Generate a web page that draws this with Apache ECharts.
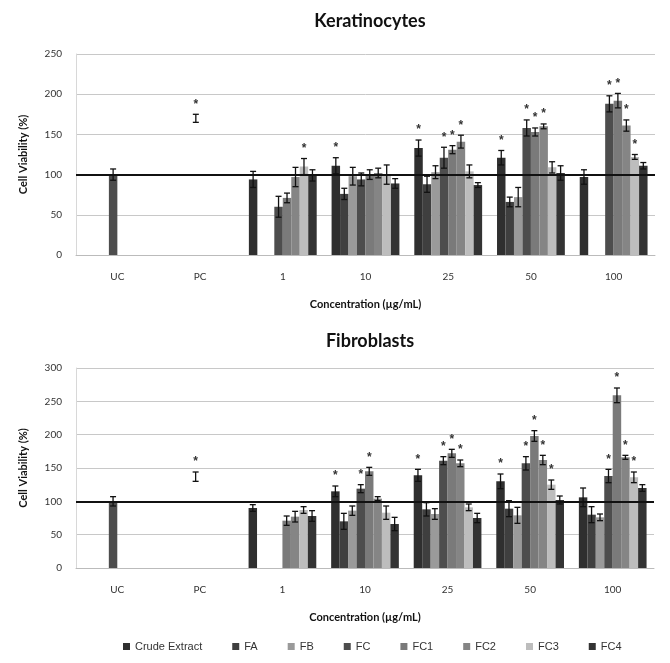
<!DOCTYPE html>
<html>
<head>
<meta charset="utf-8">
<script src="https://cdn.jsdelivr.net/npm/echarts@6/dist/echarts.min.js"></script>
<style>
html,body{margin:0;padding:0;background:#fff;}
#chart{width:670px;height:663px;}
</style>
</head>
<body>
<div id="chart"></div>
<script>
// ---- data ----
var categories = ['UC', 'PC', '1', '10', '25', '50', '100'];
var seriesNames = ['Crude Extract', 'FA', 'FB', 'FC', 'FC1', 'FC2', 'FC3', 'FC4'];

// Keratinocytes (mean, SD, significance)
var kerCrude = ['-', '-', 94, 111, 133, 121, 97];
var kerFA    = ['-', '-', '-', 76, 88, 66, '-'];
var kerFB    = ['-', '-', '-', 98, 103, 72, '-'];
var kerFC    = [100, 170, 60, 94, 121, 158, 188];
var kerFC1   = ['-', '-', 71, 100, 131, 153, 192];
var kerFC2   = ['-', '-', 97, 102, 141, 160, 161];
var kerFC3   = ['-', '-', 110, 100, 104, 109, 122];
var kerFC4   = ['-', '-', 99, 89, 87, 102, 111];

var kerCrudeErr = [0, 0, 10, 10, 10, 9, 9];
var kerFAErr    = [0, 0, 0, 7, 10, 6, 0];
var kerFBErr    = [0, 0, 0, 11, 8, 12, 0];
var kerFCErr    = [7, 5, 13, 8, 13, 10, 10];
var kerFC1Err   = [0, 0, 6, 6, 5, 5, 9];
var kerFC2Err   = [0, 0, 12, 6, 8, 3, 7];
var kerFC3Err   = [0, 0, 10, 12, 8, 7, 3];
var kerFC4Err   = [0, 0, 7, 6, 3, 9, 4];

var kerCrudeSig = [0, 0, 0, 1, 1, 1, 0];
var kerFASig    = [0, 0, 0, 0, 0, 0, 0];
var kerFBSig    = [0, 0, 0, 0, 0, 0, 0];
var kerFCSig    = [0, 1, 0, 0, 1, 1, 1];
var kerFC1Sig   = [0, 0, 0, 0, 1, 1, 1];
var kerFC2Sig   = [0, 0, 0, 0, 1, 1, 1];
var kerFC3Sig   = [0, 0, 1, 0, 0, 0, 1];
var kerFC4Sig   = [0, 0, 0, 0, 0, 0, 0];

// Fibroblasts
var fibCrude = ['-', '-', 90, 115, 139, 130, 106];
var fibFA    = ['-', '-', '-', 70, 88, 89, 80];
var fibFB    = ['-', '-', '-', 86, 81, 79, 76];
var fibFC    = [100, 137, '-', 119, 161, 157, 138];
var fibFC1   = ['-', '-', 71, 145, 172, 198, 259];
var fibFC2   = ['-', '-', 77, 104, 157, 162, 166];
var fibFC3   = ['-', '-', 87, 83, 91, 125, 136];
var fibFC4   = ['-', '-', 78, 66, 75, 102, 120];

var fibCrudeErr = [0, 0, 5, 8, 9, 11, 14];
var fibFAErr    = [0, 0, 0, 12, 10, 12, 12];
var fibFBErr    = [0, 0, 0, 7, 8, 12, 5];
var fibFCErr    = [7, 7, 0, 6, 6, 10, 10];
var fibFC1Err   = [0, 0, 7, 6, 6, 8, 11];
var fibFC2Err   = [0, 0, 8, 3, 5, 7, 3];
var fibFC3Err   = [0, 0, 5, 10, 5, 7, 8];
var fibFC4Err   = [0, 0, 8, 10, 7, 6, 5];

var fibCrudeSig = [0, 0, 0, 1, 1, 1, 0];
var fibFASig    = [0, 0, 0, 0, 0, 0, 0];
var fibFBSig    = [0, 0, 0, 0, 0, 0, 0];
var fibFCSig    = [0, 1, 0, 1, 1, 1, 1];
var fibFC1Sig   = [0, 0, 0, 1, 1, 1, 1];
var fibFC2Sig   = [0, 0, 0, 0, 1, 1, 1];
var fibFC3Sig   = [0, 0, 0, 0, 0, 1, 1];
var fibFC4Sig   = [0, 0, 0, 0, 0, 0, 0];

var kerTicks = [0, 50, 100, 150, 200, 250];
var fibTicks = [0, 50, 100, 150, 200, 250, 300];

// ---- build ----
var colors = ['#2f2f2f', '#3f3f3f', '#9a9a9a', '#4d4d4d', '#7a7a7a', '#858585', '#bdbdbd', '#333333'];
var CAT_GAP = 0.18;
var NS = seriesNames.length;

var kerVals = [kerCrude, kerFA, kerFB, kerFC, kerFC1, kerFC2, kerFC3, kerFC4];
var kerErrs = [kerCrudeErr, kerFAErr, kerFBErr, kerFCErr, kerFC1Err, kerFC2Err, kerFC3Err, kerFC4Err];
var kerSigs = [kerCrudeSig, kerFASig, kerFBSig, kerFCSig, kerFC1Sig, kerFC2Sig, kerFC3Sig, kerFC4Sig];
var fibVals = [fibCrude, fibFA, fibFB, fibFC, fibFC1, fibFC2, fibFC3, fibFC4];
var fibErrs = [fibCrudeErr, fibFAErr, fibFBErr, fibFCErr, fibFC1Err, fibFC2Err, fibFC3Err, fibFC4Err];
var fibSigs = [fibCrudeSig, fibFASig, fibFBSig, fibFCSig, fibFC1Sig, fibFC2Sig, fibFC3Sig, fibFC4Sig];

function renderErr(params, api) {
  var cat = api.value(0), s = api.value(1), v = api.value(2), e = api.value(3), st = api.value(4);
  var base = api.coord([cat, v]);
  var cw = api.size([1, 0])[0];
  var gw = cw * (1 - CAT_GAP);
  var bw = gw / NS;
  var x = base[0] - gw / 2 + (s + 0.5) * bw;
  var yt = api.coord([cat, v + e])[1];
  var yb = api.coord([cat, v - e])[1];
  var cap = 3;
  var st1 = {stroke: '#111', lineWidth: 1.3};
  var ch = [];
  if (e > 0) {
    ch.push({type: 'line', shape: {x1: x, y1: yt, x2: x, y2: yb}, style: st1});
    ch.push({type: 'line', shape: {x1: x - cap, y1: yt, x2: x + cap, y2: yt}, style: st1});
    ch.push({type: 'line', shape: {x1: x - cap, y1: yb, x2: x + cap, y2: yb}, style: st1});
  }
  if (st) {
    ch.push({type: 'text', style: {text: '*', x: x, y: yt - 16, align: 'center', verticalAlign: 'top',
      font: 'bold 12px "Liberation Sans", Arial', fill: '#333'}});
  }
  return {type: 'group', children: ch};
}

function buildSeries(vals, errs, sigs, axisIdx) {
  var out = [];
  for (var s = 0; s < NS; s++) {
    var data = vals[s].map(function (v, i) {
      if (categories[i] === 'PC' && v !== '-') {
        return {value: v, itemStyle: {color: 'rgba(255,255,255,0)'}};
      }
      return v;
    });
    var ser = {
      name: seriesNames[s], type: 'bar', xAxisIndex: axisIdx, yAxisIndex: axisIdx,
      data: data, barGap: '0%', barCategoryGap: (CAT_GAP * 100) + '%',
      itemStyle: {color: colors[s]}, animation: false
    };
    if (s === 0) {
      ser.markLine = {
        silent: true, symbol: 'none', label: {show: false}, animation: false,
        lineStyle: {color: '#111', width: 2, type: 'solid'},
        data: [{yAxis: 100}]
      };
    }
    out.push(ser);
  }
  var ed = [];
  for (var s2 = 0; s2 < NS; s2++) {
    for (var i = 0; i < categories.length; i++) {
      if (vals[s2][i] === '-') continue;
      ed.push([i, s2, vals[s2][i], errs[s2][i], sigs[s2][i]]);
    }
  }
  out.push({
    type: 'custom', xAxisIndex: axisIdx, yAxisIndex: axisIdx, renderItem: renderErr,
    data: ed, encode: {x: 0, y: 2}, z: 10, animation: false, silent: true
  });
  return out;
}

var axisLabelStyle = {color: '#333', fontSize: 10, fontFamily: 'Lato, "Liberation Sans", Arial'};
var nameStyle = {color: '#111', fontSize: 11, fontWeight: 'bold', fontFamily: 'Lato, "Liberation Sans", Arial'};

function xAxisDef(gridIdx) {
  return {
    type: 'category', gridIndex: gridIdx, data: categories,
    axisLine: {lineStyle: {color: '#bbb'}}, axisTick: {show: false},
    axisLabel: Object.assign({margin: 17}, axisLabelStyle),
    name: 'Concentration (\u00b5g/mL)', nameLocation: 'middle', nameGap: 44,
    nameTextStyle: nameStyle
  };
}
function yAxisDef(gridIdx, ticks) {
  return {
    type: 'value', gridIndex: gridIdx, min: ticks[0], max: ticks[ticks.length - 1],
    interval: ticks[1] - ticks[0],
    axisLine: {show: true, lineStyle: {color: '#d8d8d8'}}, axisTick: {show: false},
    splitLine: {lineStyle: {color: '#c8c8c8', width: 1}},
    axisLabel: Object.assign({margin: 14}, axisLabelStyle),
    name: 'Cell Viability (%)', nameLocation: 'middle', nameGap: 47,
    nameTextStyle: nameStyle
  };
}

var chart = echarts.init(document.getElementById('chart'), null, {renderer: 'canvas'});
var option = {
  backgroundColor: '#fff',
  animation: false,
  title: [
    {text: 'Keratinocytes', left: 365, top: 7, textAlign: 'center',
      textStyle: {fontSize: 18, fontWeight: 'bold', color: '#111', fontFamily: 'Lato, "Open Sans", sans-serif'}},
    {text: 'Fibroblasts', left: 365, top: 327, textAlign: 'center',
      textStyle: {fontSize: 18, fontWeight: 'bold', color: '#111', fontFamily: 'Lato, "Open Sans", sans-serif'}}
  ],
  legend: {
    data: seriesNames, left: 118, top: 636, itemWidth: 7, itemHeight: 7, itemGap: 30,
    icon: 'rect', textStyle: {color: '#333', fontSize: 11, fontFamily: '"Liberation Sans", Arial'}
  },
  grid: [
    {left: 76, right: 15, top: 54, height: 201},
    {left: 76, right: 16, top: 368, height: 200}
  ],
  xAxis: [xAxisDef(0), xAxisDef(1)],
  yAxis: [yAxisDef(0, kerTicks), yAxisDef(1, fibTicks)],
  series: buildSeries(kerVals, kerErrs, kerSigs, 0).concat(buildSeries(fibVals, fibErrs, fibSigs, 1))
};
chart.setOption(option);
</script>
</body>
</html>
